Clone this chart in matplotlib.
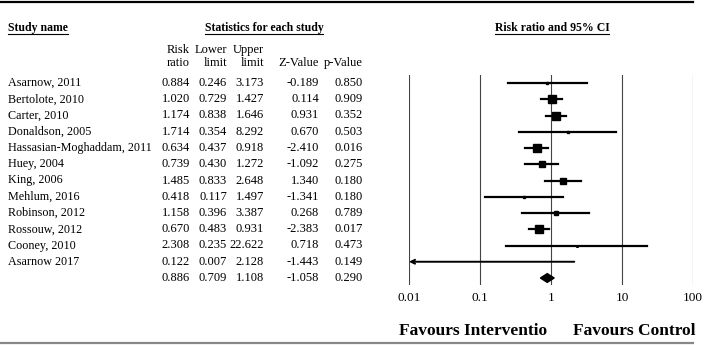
import numpy as np
import matplotlib
matplotlib.use("Agg")
import matplotlib.pyplot as plt
from matplotlib.transforms import blended_transform_factory
from matplotlib.lines import Line2D

plt.rcParams['font.family'] = ['Liberation Serif', 'DejaVu Serif']

studies = ["Asarnow, 2011", "Bertolote, 2010", "Carter, 2010", "Donaldson, 2005",
           "Hassasian-Moghaddam, 2011", "Huey, 2004", "King, 2006", "Mehlum, 2016",
           "Robinson, 2012", "Rossouw, 2012", "Cooney, 2010", "Asarnow 2017"]
risk_ratio = [0.884, 1.020, 1.174, 1.714, 0.634, 0.739, 1.485, 0.418, 1.158, 0.670, 2.308, 0.122]
lower = [0.246, 0.729, 0.838, 0.354, 0.437, 0.430, 0.833, 0.117, 0.396, 0.483, 0.235, 0.007]
upper = [3.173, 1.427, 1.646, 8.292, 0.918, 1.272, 2.648, 1.497, 3.387, 0.931, 22.622, 2.128]
z_value = [-0.189, 0.114, 0.931, 0.670, -2.410, -1.092, 1.340, -1.341, 0.268, -2.383, 0.718, -1.443]
p_value = [0.850, 0.909, 0.352, 0.503, 0.016, 0.275, 0.180, 0.180, 0.789, 0.017, 0.473, 0.149]
# relative weights (%)
weight = [1.5, 15, 15, 1.2, 14, 9, 7.5, 2, 2.5, 18, 0.6, 0.0]

summary = [0.886, 0.709, 1.108, -1.058, 0.290]

xticks = [0.01, 0.1, 1, 10, 100]
xtick_labels = ["0.01", "0.1", "1", "10", "100"]

W, H = 704, 345
fig = plt.figure(figsize=(W / 100, H / 100), dpi=100)

# background axes in pixel coords
ax0 = fig.add_axes([0, 0, 1, 1])
ax0.set_xlim(0, W)
ax0.set_ylim(H, 0)
ax0.axis('off')

# forest plot axes
left_px, right_px, top_px, bot_px = 409, 693, 75, 285
ax = fig.add_axes([left_px / W, (H - bot_px) / H, (right_px - left_px) / W, (bot_px - top_px) / H])
ax.set_xscale('log')
ax.set_xlim(0.01, 100)
n = len(studies)
row_h = 16.25
ax.set_ylim((bot_px - 83) / row_h, (top_px - 83) / row_h)
for s in ax.spines.values():
    s.set_visible(False)
ax.set_yticks([])
ax.set_xticks(xticks)
ax.set_xticklabels(xtick_labels, fontsize=9.5)
ax.minorticks_off()
ax.tick_params(axis='x', length=0, pad=5)
for t in xticks:
    ax.axvline(t, color='#444444', lw=0.8, zorder=1)

rows = np.arange(n)
for i in rows:
    lo = max(lower[i], 0.01)
    if lower[i] < 0.01:
        ax.annotate('', xy=(lo, i), xytext=(upper[i], i),
                    arrowprops=dict(arrowstyle='->', lw=1.4, color='black',
                                    mutation_scale=7, shrinkA=0, shrinkB=0),
                    annotation_clip=False, zorder=3)
    else:
        ax.plot([lo, upper[i]], [i, i], color='black', lw=1.6, zorder=3)
    if weight[i] > 0:
        side = 2.1 * np.sqrt(weight[i]) * 0.72
        ax.plot(risk_ratio[i], i, marker='s', ms=side, color='black', zorder=4)

# summary diamond
d = 0.27
ax.fill([summary[1], summary[0], summary[2], summary[0]],
        [n, n - d, n, n + d], color='black', zorder=4)

# table text, rows aligned with forest rows
tr = blended_transform_factory(ax0.transData, ax.transData)
fs_name = 8.7
fs_num = 9
col_x = [190, 227, 264, 319, 363]
for i in rows:
    ax0.text(8, i, studies[i], transform=tr, fontsize=fs_name, va='center', ha='left')
    vals = [risk_ratio[i], lower[i], upper[i], z_value[i], p_value[i]]
    for x, v in zip(col_x, vals):
        ax0.text(x, i, f"{v:.3f}", transform=tr, fontsize=fs_num, va='center', ha='right')
for x, v in zip(col_x, summary):
    ax0.text(x, n, f"{v:.3f}", transform=tr, fontsize=fs_num, va='center', ha='right')

# column headers
hdr1 = ["Risk", "Lower", "Upper", "", ""]
hdr2 = ["ratio", "limit", "limit", "Z-Value", "p-Value"]
for x, a, b in zip(col_x, hdr1, hdr2):
    if a:
        ax0.text(x, 50, a, fontsize=fs_num, va='center', ha='right')
    ax0.text(x, 63, b, fontsize=fs_num, va='center', ha='right')

titles = [
    ax0.text(8, 28, "Study name", fontsize=8.5, fontweight='bold', va='center', ha='left'),
    ax0.text(264, 28, "Statistics for each study", fontsize=8.5, fontweight='bold', va='center', ha='center'),
    ax0.text(552, 28, "Risk ratio and 95% CI", fontsize=8.5, fontweight='bold', va='center', ha='center'),
]

ax0.text(547, 331, "Favours Interventio", fontsize=12.5, fontweight='bold', va='center', ha='right')
ax0.text(573, 331, "Favours Control", fontsize=12.5, fontweight='bold', va='center', ha='left')

# frame lines
ax0.plot([0, 693], [2, 2], color='black', lw=1.6)
ax0.plot([0, 693], [343, 343], color='#888888', lw=1.6)

# underline the section titles
fig.canvas.draw()
renderer = fig.canvas.get_renderer()
inv = ax0.transData.inverted()
for t in titles:
    bb = t.get_window_extent(renderer)
    (x0, y0), (x1, y1) = inv.transform([[bb.x0, bb.y0], [bb.x1, bb.y1]])
    ax0.add_line(Line2D([x0, x1], [y0 - 0.5, y0 - 0.5], color='black', lw=0.8))

fig.savefig("out.png", dpi=100)
